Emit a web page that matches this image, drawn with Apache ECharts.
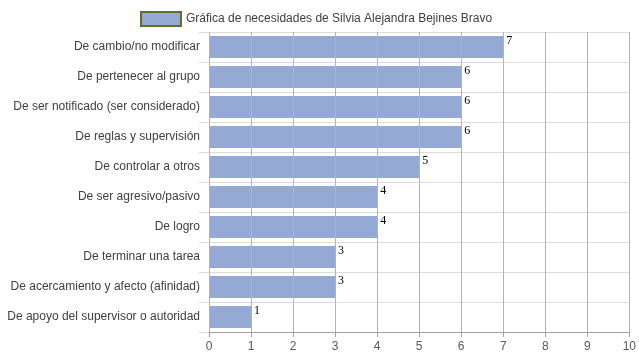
<!DOCTYPE html>
<html><head><meta charset="utf-8">
<script src="https://cdn.jsdelivr.net/npm/echarts@6/dist/echarts.min.js"></script>
<style>html,body{margin:0;padding:0;background:#fff}#c{width:639px;height:360px}</style>
</head><body><div id="c"></div>
<script>
const categories = [
  "De cambio/no modificar",
  "De pertenecer al grupo",
  "De ser notificado (ser considerado)",
  "De reglas y supervisión",
  "De controlar a otros",
  "De ser agresivo/pasivo",
  "De logro",
  "De terminar una tarea",
  "De acercamiento y afecto (afinidad)",
  "De apoyo del supervisor o autoridad"
];
const values = [7, 6, 6, 6, 5, 4, 4, 3, 3, 1];
const seriesName = "Gráfica de necesidades de Silvia Alejandra Bejines Bravo";
const xTicks = [0, 10, 1];

const chart = echarts.init(document.getElementById('c'), null, {renderer: 'canvas'});
chart.setOption({
  animation: false,
  textStyle: {fontFamily: 'Liberation Sans, Arial, sans-serif'},
  legend: {
    left: 135, top: 6,
    itemWidth: 40, itemHeight: 14, itemGap: 6,
    textStyle: {fontSize: 12, color: '#404040', fontFamily: 'Liberation Sans, Arial, sans-serif'},
    data: [{name: seriesName, icon: 'rect', itemStyle: {color: '#95A9D5', borderColor: '#5F7029', borderWidth: 2}}]
  },
  grid: {left: 209, right: 9, top: 32, bottom: 28, containLabel: false},
  xAxis: {
    type: 'value', min: xTicks[0], max: xTicks[1], interval: xTicks[2],
    z: 3,
    axisLine: {show: true, lineStyle: {color: '#a0a0a0'}},
    axisTick: {show: true, length: 5, lineStyle: {color: '#a0a0a0'}},
    axisLabel: {color: '#595959', fontSize: 12, margin: 9},
    splitLine: {show: true, lineStyle: {color: '#b4b4b4', width: 1}}
  },
  yAxis: {
    type: 'category', data: categories, inverse: true,
    axisLine: {show: false},
    axisTick: {show: true, length: 10, lineStyle: {color: '#dcdcdc'}},
    axisLabel: {color: '#404040', fontSize: 12, margin: 9},
    splitLine: {show: true, lineStyle: {color: '#dcdcdc'}}
  },
  series: [{
    name: seriesName, type: 'bar', data: values,
    barCategoryGap: '26%',
    itemStyle: {color: '#95A9D5'},
    label: {
      show: true, position: ['100%', 0], offset: [3, -1],
      color: '#000', fontSize: 12, fontFamily: 'Liberation Serif, Times New Roman, serif'
    }
  }]
});
</script></body></html>
